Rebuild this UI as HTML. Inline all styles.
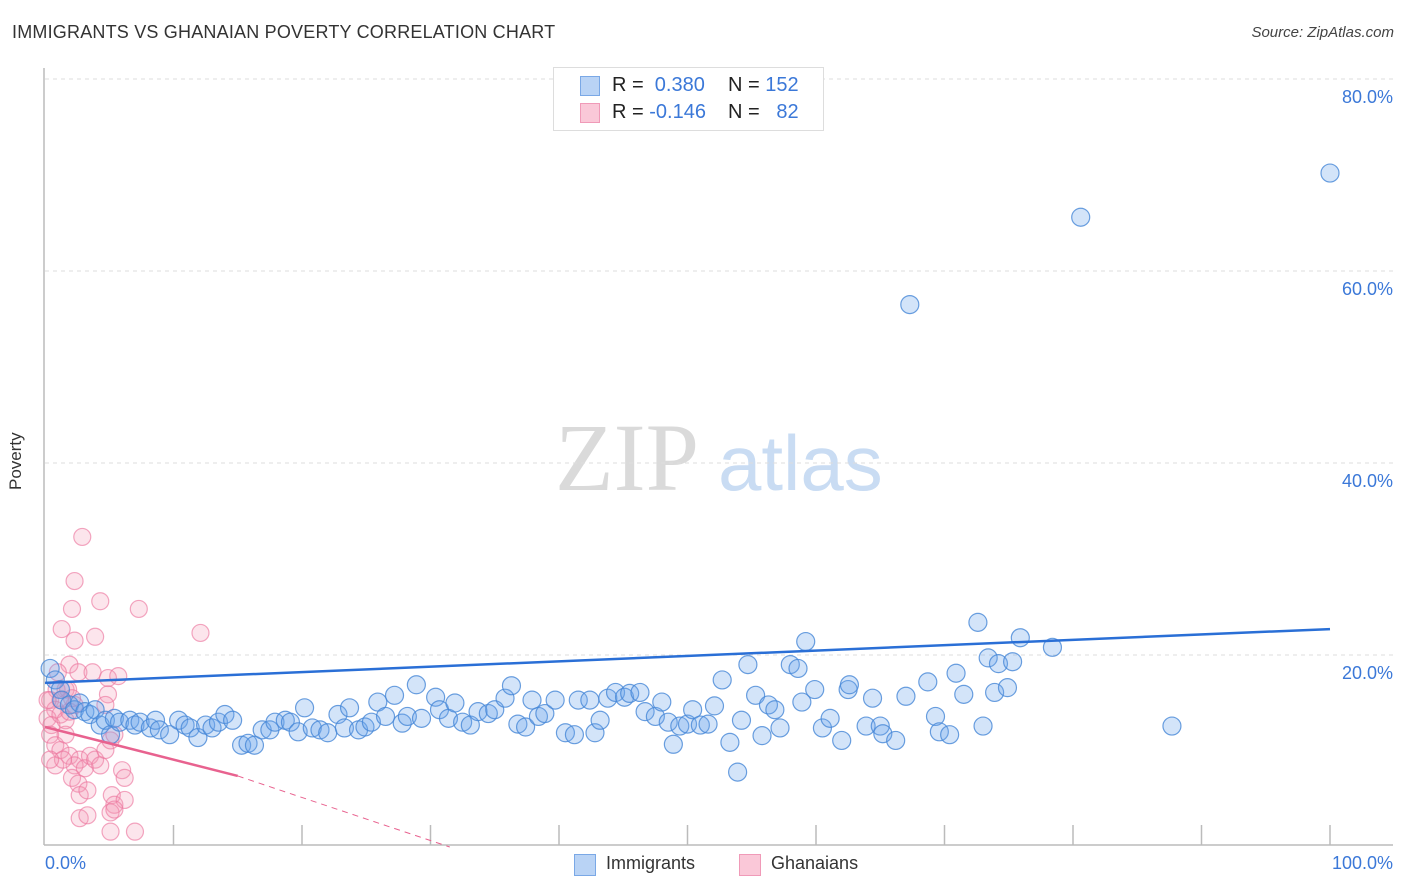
<!DOCTYPE html>
<html><head><meta charset="utf-8"><style>
body{margin:0;background:#fff;font-family:"Liberation Sans",sans-serif}
#wrap{position:relative;width:1406px;height:892px;overflow:hidden}
.t{position:absolute;white-space:nowrap}
</style></head><body>
<div id="wrap">
<div class="t" style="left:12px;top:22px;font-size:18px;color:#333;letter-spacing:0.2px">IMMIGRANTS VS GHANAIAN POVERTY CORRELATION CHART</div>
<div class="t" style="right:12px;top:24px;font-size:15px;color:#444;font-style:italic">Source: ZipAtlas.com</div>
<svg id="svg" width="1406" height="892" style="position:absolute;left:0;top:0"></svg>
</div>
<script>
const yTicks=[20,40,60,80];
const yTickLabels=["20.0%","40.0%","60.0%","80.0%"];
const xTickVals=[0,10,20,30,40,50,60,70,80,90,100];
const blueX=[0.4,0.8,1.2,1.3,1.9,2.3,2.7,3.1,3.5,3.9,4.3,4.7,5.1,5.4,5.8,6.6,7.0,7.4,8.2,8.6,8.9,9.7,10.4,10.9,11.3,11.9,12.5,13.0,13.5,14.0,14.6,15.3,15.8,16.3,16.9,17.5,17.9,18.7,19.1,19.7,20.2,20.8,21.4,22.0,22.8,23.3,23.7,24.4,24.9,25.4,25.9,26.5,27.2,27.8,28.2,28.9,29.3,30.4,30.7,31.4,31.9,32.5,33.1,33.7,34.5,35.0,35.8,36.3,36.8,37.4,37.9,38.4,38.9,39.7,40.5,41.2,41.5,42.4,42.8,43.2,43.8,44.4,45.1,45.5,46.3,46.7,47.5,48.0,48.5,48.9,49.4,50.0,50.4,51.0,51.6,52.1,52.7,53.3,53.9,54.2,54.7,55.3,55.8,56.3,56.8,57.2,58.0,58.6,59.2,58.9,59.9,60.5,61.1,62.0,62.5,62.6,63.9,64.4,65.0,65.2,66.2,67.0,67.3,68.7,69.3,69.6,70.4,70.9,71.5,72.6,73.0,73.4,73.9,74.2,74.9,75.3,75.9,78.4,80.6,87.7,100];
const blueY=[18.6,17.4,16.4,15.3,14.8,14.3,15.0,14.1,13.8,14.3,12.7,13.2,11.7,13.4,13.0,13.2,12.7,13.0,12.4,13.2,12.2,11.7,13.2,12.7,12.4,11.4,12.7,12.4,13.0,13.8,13.2,10.6,10.8,10.6,12.2,12.2,13.0,13.2,13.0,12.0,14.5,12.4,12.2,11.9,13.8,12.4,14.5,12.2,12.5,13.0,15.1,13.6,15.8,12.9,13.6,16.9,13.4,15.6,14.3,13.4,15.0,13.0,12.7,14.1,13.9,14.3,15.5,16.8,12.8,12.5,15.3,13.6,13.9,15.3,11.9,11.7,15.3,15.3,11.9,13.2,15.5,16.1,15.6,16.0,16.1,14.1,13.6,15.1,13.0,10.7,12.6,12.8,14.3,12.7,12.8,14.7,17.4,10.9,7.8,13.2,19.0,15.8,11.6,14.8,14.3,12.4,19.0,18.6,21.4,15.1,16.4,12.4,13.4,11.1,16.4,16.9,12.6,15.5,12.6,11.8,11.1,15.7,56.5,17.2,13.6,12.0,11.7,18.1,15.9,23.4,12.6,19.7,16.1,19.1,16.6,19.3,21.8,20.8,65.6,12.6,70.2];
const pinkX=[2.9,2.3,2.1,4.3,3.9,1.3,2.3,7.3,12.1,1.9,1.0,1.6,2.6,3.7,4.9,5.7,4.9,0.9,0.4,0.8,0.2,0.5,1.2,1.6,1.9,2.3,0.4,0.8,1.6,1.2,1.9,2.7,2.3,3.1,3.5,3.9,4.3,4.7,5.1,5.4,6.0,6.2,2.1,2.6,2.7,3.3,5.2,5.4,6.2,5.1,5.4,2.7,3.3,5.1,7.0,0.8,1.4,1.8,2.1,4.7,1.2,0.2,0.4];
const pinkY=[32.3,27.7,24.8,25.6,21.9,22.7,21.5,24.8,22.3,19.0,18.2,16.4,18.2,18.2,17.6,17.8,15.9,16.4,15.3,14.3,13.4,12.7,13.8,13.2,14.1,14.8,11.7,10.6,11.7,10.1,9.5,9.1,8.5,8.2,9.5,9.1,8.5,10.1,11.1,11.7,8.0,7.2,7.2,6.6,5.4,5.9,5.4,4.4,4.9,3.6,3.9,3.0,3.3,1.6,1.6,8.5,9.1,16.4,15.5,14.8,15.3,15.3,9.1];
const blueTrend=[0,17.1,100,22.7];
const pinkTrend=[0,12.5,15,7.4,31.5,0];

const NS="http://www.w3.org/2000/svg",svg=document.getElementById('svg');
const X0=45,X1=1330,Y0=847,PY=9.6;
const sx=v=>X0+(X1-X0)*v/100, sy=v=>Y0-v*PY;
function mk(tag,attrs,parent){const e=document.createElementNS(NS,tag);for(const k in attrs)e.setAttribute(k,attrs[k]);(parent||svg).appendChild(e);return e;}
let wm=mk('text',{x:555,y:490,'font-family':'Liberation Serif,serif','font-size':96,fill:'#dadada'});wm.textContent='ZIP';


let wm2=mk('text',{x:718,y:490,'font-family':'Liberation Sans,sans-serif','font-size':78,fill:'#c9dcf3'});wm2.textContent='atlas';


yTicks.forEach((v,i)=>{
 const g=mk('line',{x1:X0,x2:1393,y1:sy(v),y2:sy(v),stroke:'#dddddd','stroke-dasharray':'4,4'});
 
 
 const t=mk('text',{x:1393,y:sy(v)+24,'text-anchor':'end','font-size':18,fill:'#3b78d8','font-family':'Liberation Sans,sans-serif'});
 t.textContent=yTickLabels[i];
 
 
});
let ax=mk('line',{x1:44,x2:44,y1:68,y2:845,stroke:'#bbb','stroke-width':1.5});


let bx=mk('line',{x1:44,x2:1393,y1:845,y2:845,stroke:'#bbb','stroke-width':1.5});


xTickVals.forEach(v=>{if(v===0)return;const l=mk('line',{x1:sx(v),x2:sx(v),y1:825,y2:845,stroke:'#bbb','stroke-width':1.5});
 
 });
function dots(xs,ys,fill,stroke,r,name){xs.forEach((x,i)=>{const c=mk('circle',{cx:sx(x),cy:sy(ys[i]),r:r,fill:fill,stroke:stroke,'stroke-width':1.2});
 
 });}
dots(pinkX,pinkY,'rgba(244,150,180,0.25)','rgba(236,120,160,0.65)',8.5,'ghanaians-point');
dots(blueX,blueY,'rgba(110,165,235,0.3)','rgba(70,135,215,0.8)',9,'immigrants-point');
let bt=mk('line',{x1:sx(blueTrend[0]),y1:sy(blueTrend[1]),x2:sx(blueTrend[2]),y2:sy(blueTrend[3]),stroke:'#2a6fd6','stroke-width':2.5});


let pt=mk('line',{x1:sx(pinkTrend[0]),y1:sy(pinkTrend[1]),x2:sx(pinkTrend[2]),y2:sy(pinkTrend[3]),stroke:'#e8628f','stroke-width':2.5});


let pd=mk('line',{x1:sx(pinkTrend[2]),y1:sy(pinkTrend[3]),x2:sx(pinkTrend[4]),y2:sy(pinkTrend[5]),stroke:'#e8628f','stroke-width':1,'stroke-dasharray':'6,5'});


</script>
<div class="t" style="left:6px;font-size:17px;color:#333;transform:rotate(-90deg);transform-origin:left top;top:490px">Poverty</div>
<div class="t" style="left:45px;top:853px;font-size:18px;color:#3b78d8">0.0%</div>
<div class="t" style="right:13px;top:853px;font-size:18px;color:#3b78d8">100.0%</div>
<div style="position:absolute;left:553px;top:67px;width:269px;height:62px;border:1px solid #ddd;background:#fff;font-size:20px">
 <div style="position:absolute;left:26px;top:8px;width:18px;height:18px;background:#b9d3f5;border:1px solid #7aa8e6"></div>
 <div class="t" style="left:58px;top:6px;color:#222">R = <span style="color:#3b78d8">&nbsp;0.380</span></div>
 <div class="t" style="left:174px;top:6px;color:#222">N = <span style="color:#3b78d8">152</span></div>
 <div style="position:absolute;left:26px;top:35px;width:18px;height:18px;background:#fac8d8;border:1px solid #f09ab8"></div>
 <div class="t" style="left:58px;top:33px;color:#222">R = <span style="color:#3b78d8">-0.146</span></div>
 <div class="t" style="left:174px;top:33px;color:#222">N = <span style="color:#3b78d8">&nbsp;&nbsp;82</span></div>
</div>
<div style="position:absolute;left:574px;top:854px;width:20px;height:20px;background:#b9d3f5;border:1px solid #7aa8e6"></div>
<div class="t" style="left:606px;top:853px;font-size:18px;color:#333">Immigrants</div>
<div style="position:absolute;left:739px;top:854px;width:20px;height:20px;background:#fac8d8;border:1px solid #f09ab8"></div>
<div class="t" style="left:771px;top:853px;font-size:18px;color:#333">Ghanaians</div>
</body></html>
